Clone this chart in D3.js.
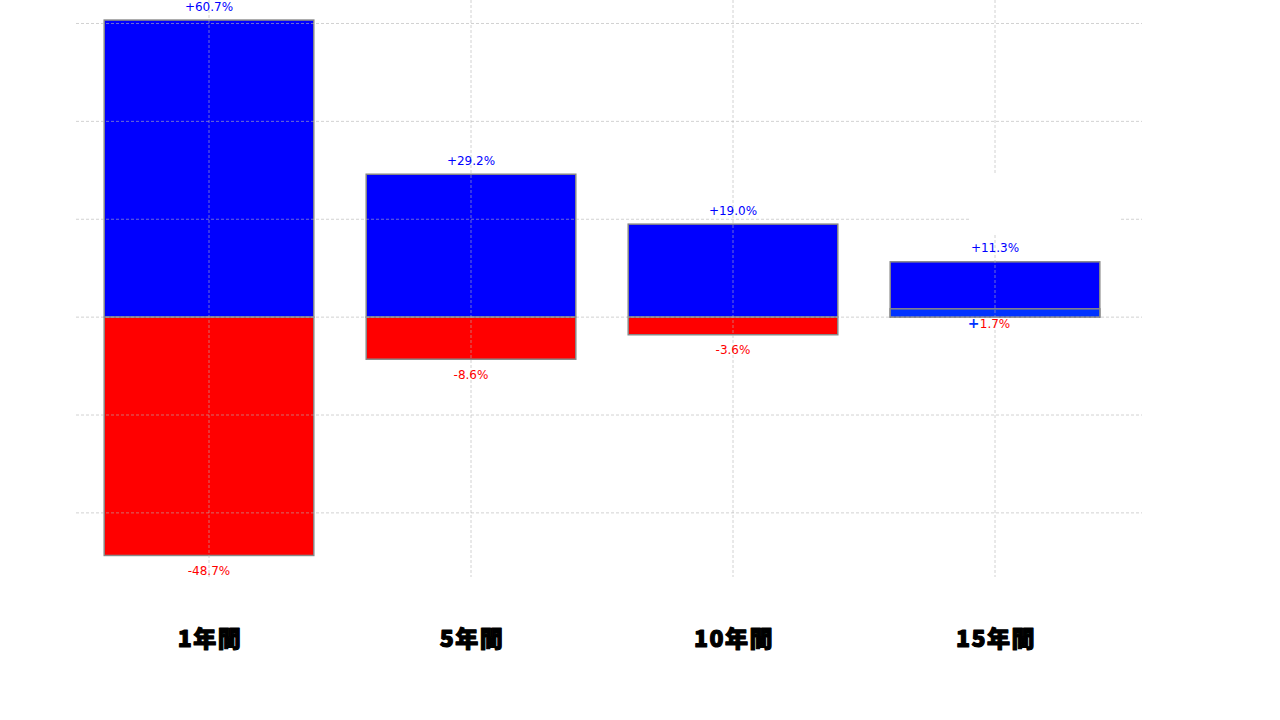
<!DOCTYPE html>
<html><head><meta charset="utf-8">
<script src="https://cdn.jsdelivr.net/npm/d3@7"></script>
<style>body{margin:0;background:#fff}svg{display:block}</style>
</head><body>
<svg id="c" width="1280" height="720"></svg>
<script>
const categories = ["1年間", "5年間", "10年間", "15年間"];
const maxValues = [60.7, 29.2, 19.0, 11.3];
const minValues = [-48.7, -8.6, -3.6, 1.7];
const gridTicks = [60, 40, 20, 0, -20, -40];

const svg = d3.select("#c");
const x = d3.scaleBand().domain(categories).range([78, 1126]).paddingInner(0.2).paddingOuter(0.1);
const y = d3.scaleLinear().domain([-53.1, 64.8]).range([577, 0]);
const fmt = v => (v >= 0 ? "+" : "") + v.toFixed(1) + "%";
const cx = d => x(d) + x.bandwidth() / 2;

// bars
const g = svg.append("g");
g.selectAll(".mx").data(categories).join("rect")
  .attr("x", d => x(d)).attr("width", x.bandwidth())
  .attr("y", (d, i) => y(maxValues[i])).attr("height", (d, i) => y(0) - y(maxValues[i]))
  .attr("fill", "#0000ff").attr("stroke", "#888").attr("stroke-width", 1.5);
g.selectAll(".mn").data(categories).join("rect")
  .attr("x", d => x(d)).attr("width", x.bandwidth())
  .attr("y", (d, i) => y(Math.max(0, minValues[i])))
  .attr("height", (d, i) => Math.abs(y(minValues[i]) - y(0)))
  .attr("fill", (d, i) => minValues[i] >= 0 ? "#0033ff" : "#ff0000")
  .attr("stroke", "#888").attr("stroke-width", 1.5);

// grid on top
const grid = svg.append("g").attr("stroke", "#b4b4b4").attr("stroke-opacity", 0.6)
  .attr("stroke-dasharray", "3,2").attr("stroke-width", 1);
grid.selectAll("line.h").data(gridTicks).join("line")
  .attr("x1", 76).attr("x2", 1142).attr("y1", d => y(d)).attr("y2", d => y(d));
grid.selectAll("line.v").data(categories).join("line")
  .attr("x1", cx).attr("x2", cx).attr("y1", 0).attr("y2", 577);

// empty legend box
svg.append("rect").attr("x", 971).attr("y", 173).attr("width", 149).attr("height", 62).attr("fill", "#fff");

// labels
const lab = svg.append("g").attr("font-family", "DejaVu Sans").attr("font-size", 12).attr("text-anchor", "middle");
lab.selectAll("text.mx").data(categories).join("text")
  .attr("x", cx).attr("y", (d, i) => y(maxValues[i]) - 9.5)
  .attr("fill", "#0000ff").text((d, i) => fmt(maxValues[i]));
lab.selectAll("text.mn").data(categories).join("text")
  .attr("x", cx).attr("y", (d, i) => y(minValues[i]) + 19.5)
  .attr("fill", "#ff0000")
  .text((d, i) => minValues[i] >= 0 ? minValues[i].toFixed(1) + "%" : fmt(minValues[i]));
lab.selectAll("text.plus").data(categories.filter((d, i) => minValues[i] >= 0)).join("text")
  .attr("x", d => cx(d) - 21.5)
  .attr("y", d => y(minValues[categories.indexOf(d)]) + 19.5)
  .attr("fill", "#0033ff").attr("font-weight", "bold").attr("font-size", 14).text("+");

// category labels
svg.append("g").selectAll("text").data(categories).join("text")
  .attr("x", d => cx(d) + 1).attr("y", 647)
  .attr("text-anchor", "middle").attr("font-family", "Noto Sans CJK JP")
  .attr("font-weight", 900).attr("font-size", 23).attr("letter-spacing", 1.5)
  .attr("fill", "#000").attr("stroke", "#000").attr("stroke-width", 1.2)
  .attr("stroke-linejoin", "round").text(d => d);
</script>
</body></html>
